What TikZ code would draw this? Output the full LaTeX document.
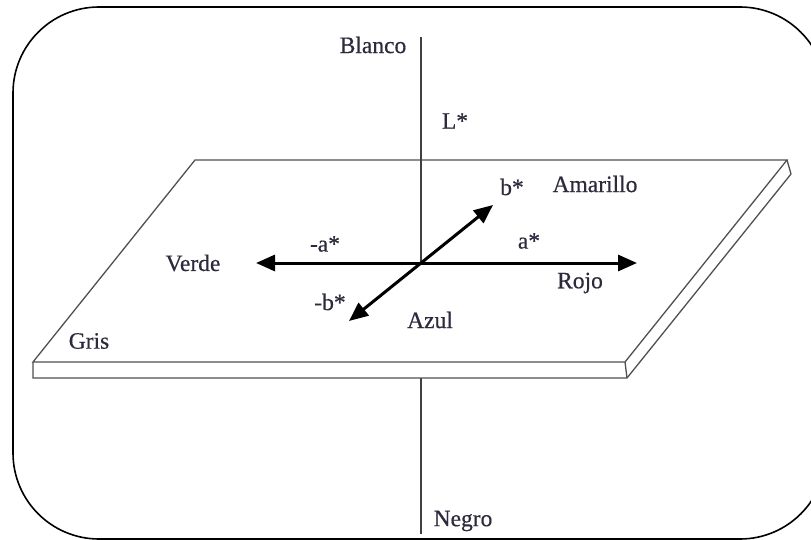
\documentclass[tikz,border=0pt]{standalone}
\usepackage{fontspec}
\setmainfont{Liberation Serif}[FakeBold=0.5]
\usetikzlibrary{arrows.meta}
\definecolor{txt}{RGB}{45,42,60}
\definecolor{edge}{RGB}{80,80,80}
\begin{document}
\begin{tikzpicture}[x=1pt,y=-1pt,
  lbl/.style={inner sep=0pt,text=txt,font=\fontsize{23.5}{23.5}\selectfont},
  plane/.style={draw=edge,line width=1.3pt,line join=miter},
  axis/.style={draw=black!75,line width=1.2pt},
  colarrow/.style={draw=black,line width=3pt,{Triangle[length=19pt,width=16pt]}-{Triangle[length=19pt,width=16pt]},shorten <=0pt,shorten >=0pt}]
\useasboundingbox (0,0) rectangle (811,540);
\clip (0,0) rectangle (811,540);
% frame
\draw[line width=1.6pt,rounded corners=86pt] (13,7) rectangle (826,539);
% plane corners
\coordinate (t1) at (195,160);
\coordinate (t2) at (787,160);
\coordinate (t3) at (625,362);
\coordinate (t4) at (33,362);
\coordinate (b2) at (791,174);
\coordinate (b3) at (627,378);
\coordinate (b4) at (33,378);
% vertical axis
\coordinate (top) at (421,37);
\coordinate (ctr) at (421,263);
\coordinate (low) at (421,378);
\coordinate (bot) at (421,534);
\draw[axis] (low) -- (bot);
% plane
\draw[plane] (t1) -- (t2) -- (t3) -- (t4) -- cycle;
\draw[plane] (t4) -- (b4) -- (b3) -- (b2) -- (t2);
\draw[plane] (t3) -- (b3);
% upper axis over the plane
\draw[axis] (top) -- (ctr);
% color arrows
\coordinate (verde) at (256,263);
\coordinate (rojo) at (637,263);
\coordinate (azul) at (349,321);
\coordinate (amar) at (493,205);
\draw[colarrow] (verde) -- (rojo);
\draw[colarrow] (azul) -- (amar);
% labels
\node[lbl] (blanco) at (373,45) {Blanco};
\node[lbl] (lstar) at (455,121) {L*};
\node[lbl] (bstar) at (512,187) {b*};
\node[lbl] (amarillo) at (595,184) {Amarillo};
\node[lbl] (ma) at (325,244) {-a*};
\node[lbl] (pa) at (529,241) {a*};
\node[lbl] (verdel) at (193,263) {Verde};
\node[lbl] (rojol) at (580,283) {Rojo};
\node[lbl] (mb) at (330,302) {-b*};
\node[lbl] (azull) at (430,320) {Azul};
\node[lbl] (gris) at (89,341) {Gris};
\node[lbl] (negro) at (463,521) {Negro};
\end{tikzpicture}
\end{document}
